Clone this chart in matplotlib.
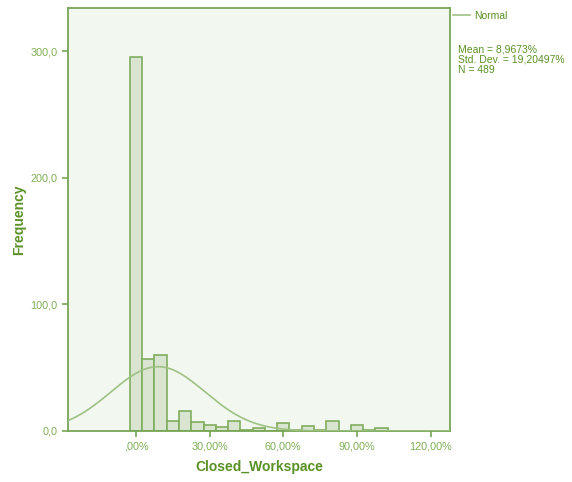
import matplotlib
matplotlib.use("Agg")
import matplotlib.pyplot as plt
import numpy as np

# histogram of Closed_Workspace (bin width 5%)
bin_centers = [0, 5, 10, 15, 20, 25, 30, 35, 40, 45, 50, 55, 60, 65, 70, 75, 80, 85, 90, 95, 100]
counts = [295, 57, 60, 8, 16, 7, 5, 3, 8, 1, 2, 0, 6, 1, 4, 1, 8, 0, 5, 1, 2]
bin_width = 5

mean = 8.9673
std = 19.20497
n = 489

x_ticks = [0, 30, 60, 90, 120]
x_ticklabels = [",00%", "30,00%", "60,00%", "90,00%", "120,00%"]
y_ticks = [0, 100, 200, 300]
y_ticklabels = ["0,0", "100,0", "200,0", "300,0"]

plt.rcParams['font.family'] = ['Liberation Sans', 'DejaVu Sans']

frame_col = "#78a655"
bar_fill = "#d9e5d0"
bar_edge = "#80ad5e"
curve_col = "#9dc283"
tick_col = "#7fae55"
label_col = "#5a9127"
bg_col = "#f2f7f0"

fig = plt.figure(figsize=(5.72, 4.82), dpi=100)
ax = fig.add_axes([68 / 572, 51 / 482, (450 - 68) / 572, (431 - 8) / 482])
ax.set_facecolor(bg_col)

ax.bar(bin_centers, counts, width=bin_width, color=bar_fill,
       edgecolor=bar_edge, linewidth=1.2, zorder=2)

xs = np.linspace(-30, 130, 400)
ys = n * bin_width / (std * np.sqrt(2 * np.pi)) * np.exp(-0.5 * ((xs - mean) / std) ** 2)
line, = ax.plot(xs, ys, color=curve_col, linewidth=1.2, zorder=3)

ax.set_xlim(-27.7, 127.9)
ax.set_ylim(0, 334)
ax.set_xticks(x_ticks)
ax.set_xticklabels(x_ticklabels)
ax.set_yticks(y_ticks)
ax.set_yticklabels(y_ticklabels)

for s in ax.spines.values():
    s.set_color(frame_col)
    s.set_linewidth(1.3)
ax.tick_params(axis='both', colors=frame_col, labelcolor=tick_col,
               labelsize=7.8, length=4, width=1.2, direction='out')

ax.set_xlabel("Closed_Workspace", fontsize=10, fontweight='bold', color=label_col)
ax.set_ylabel("Frequency", fontsize=10, fontweight='bold', color=label_col)
ax.xaxis.set_label_coords(0.5, -0.069)
ax.yaxis.set_label_coords(-0.110, 0.5)

leg = ax.legend([line], ["Normal"], loc='upper left', bbox_to_anchor=(1.0, 1.0),
                frameon=False, fontsize=7.5, handlelength=1.6, handletextpad=0.4,
                borderaxespad=0.2, borderpad=0.1)
for t in leg.get_texts():
    t.set_color(label_col)

fig.text(458 / 572, 1 - 45 / 482,
         "Mean = 8,9673%\nStd. Dev. = 19,20497%\nN = 489",
         fontsize=7.5, color=label_col, va='top', ha='left', linespacing=1.0)

fig.savefig("out.png", dpi=100, facecolor='white')
